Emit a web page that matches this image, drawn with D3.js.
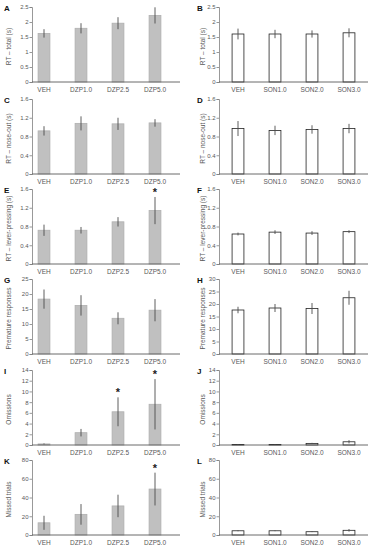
<!DOCTYPE html>
<html>
<head>
<meta charset="utf-8">
<script src="https://cdn.jsdelivr.net/npm/d3@7"></script>
<style>
  body { margin: 0; background: #fff; }
  text { font-family: "Liberation Sans", Arial, sans-serif; }
</style>
</head>
<body>
<svg id="chart"></svg>
<script>
var w = 371;
var h = 550;

var dzpGroups = ["VEH", "DZP1.0", "DZP2.5", "DZP5.0"];
var sonGroups = ["VEH", "SON1.0", "SON2.0", "SON3.0"];

// means and errors
var totalDzp = [1.62, 1.79, 1.96, 2.22];
var totalDzpErr = [0.14, 0.17, 0.2, 0.27];
var totalSon = [1.6, 1.6, 1.6, 1.64];
var totalSonErr = [0.18, 0.14, 0.12, 0.15];

var noseDzp = [0.92, 1.08, 1.07, 1.09];
var noseDzpErr = [0.1, 0.15, 0.13, 0.08];
var noseSon = [0.97, 0.93, 0.95, 0.97];
var noseSonErr = [0.16, 0.1, 0.09, 0.1];

var leverDzp = [0.72, 0.72, 0.9, 1.14];
var leverDzpErr = [0.12, 0.07, 0.1, 0.29];
var leverSon = [0.64, 0.68, 0.66, 0.69];
var leverSonErr = [0.03, 0.04, 0.04, 0.03];

var prematureDzp = [18.3, 16.2, 11.9, 14.6];
var prematureDzpErr = [3.2, 3.4, 2.0, 3.7];
var prematureSon = [17.6, 18.4, 18.2, 22.5];
var prematureSonErr = [1.3, 1.6, 2.2, 2.8];

var omissionsDzp = [0.2, 2.3, 6.2, 7.6];
var omissionsDzpErr = [0.1, 0.7, 2.7, 4.7];
var omissionsSon = [0.1, 0.1, 0.3, 0.6];
var omissionsSonErr = [0.05, 0.05, 0.1, 0.3];

var missedDzp = [13, 22, 31, 49];
var missedDzpErr = [7.5, 11, 12, 17.5];
var missedSon = [4.5, 4.5, 3.5, 5];
var missedSonErr = [0.5, 0.4, 0.4, 1.4];

// significant groups (index) per DZP panel
var starsLever = [3];
var starsOmissions = [2, 3];
var starsMissed = [3];

var yTicksTotal = [0, 0.5, 1, 1.5, 2, 2.5];
var yTicksRt = [0, 0.4, 0.8, 1.2, 1.6];
var yTicksPremDzp = [0, 5, 10, 15, 20, 25];
var yTicksPremSon = [0, 5, 10, 15, 20, 25, 30];
var yTicksOmissions = [0, 2, 4, 6, 8, 10, 12, 14];
var yTicksMissed = [0, 20, 40, 60, 80];

var rowTitles = ["RT \u2013 total (s)", "RT \u2013 nose-out (s)", "RT \u2013 lever-pressing (s)",
  "Premature responses", "Omissions", "Missed trials"];

var panels = [
  { letter: "A", col: 0, row: 0, values: totalDzp, errs: totalDzpErr, ticks: yTicksTotal, stars: [] },
  { letter: "B", col: 1, row: 0, values: totalSon, errs: totalSonErr, ticks: yTicksTotal, stars: [] },
  { letter: "C", col: 0, row: 1, values: noseDzp, errs: noseDzpErr, ticks: yTicksRt, stars: [] },
  { letter: "D", col: 1, row: 1, values: noseSon, errs: noseSonErr, ticks: yTicksRt, stars: [] },
  { letter: "E", col: 0, row: 2, values: leverDzp, errs: leverDzpErr, ticks: yTicksRt, stars: starsLever },
  { letter: "F", col: 1, row: 2, values: leverSon, errs: leverSonErr, ticks: yTicksRt, stars: [] },
  { letter: "G", col: 0, row: 3, values: prematureDzp, errs: prematureDzpErr, ticks: yTicksPremDzp, stars: [] },
  { letter: "H", col: 1, row: 3, values: prematureSon, errs: prematureSonErr, ticks: yTicksPremSon, stars: [] },
  { letter: "I", col: 0, row: 4, values: omissionsDzp, errs: omissionsDzpErr, ticks: yTicksOmissions, stars: starsOmissions },
  { letter: "J", col: 1, row: 4, values: omissionsSon, errs: omissionsSonErr, ticks: yTicksOmissions, stars: [] },
  { letter: "K", col: 0, row: 5, values: missedDzp, errs: missedDzpErr, ticks: yTicksMissed, stars: starsMissed },
  { letter: "L", col: 1, row: 5, values: missedSon, errs: missedSonErr, ticks: yTicksMissed, stars: [] }
];

var rowTop = [7, 99, 189, 279, 370, 460];
var plotH = 75;
// axis line position, band range and letter/label positions per column
var cols = [
  { axisX: 32, axisEnd: 180, band: [25.5, 173.5], letterX: 4, labelX: 9, groups: dzpGroups,
    fill: "#c0c0c0", stroke: "#b0b0b0" },
  { axisX: 219, axisEnd: 368, band: [219.5, 367.5], letterX: 197, labelX: 203, groups: sonGroups,
    fill: "#ffffff", stroke: "#222" }
];

var svg = d3.select("#chart").attr("width", w).attr("height", h);

panels.forEach(function (p) {
  var c = cols[p.col];
  var top = rowTop[p.row];
  var base = top + plotH;
  var yMax = p.ticks[p.ticks.length - 1];

  var x = d3.scaleBand().domain(c.groups).range(c.band).paddingInner(0.68).paddingOuter(0.34);
  var y = d3.scaleLinear().domain([0, yMax]).range([base, top]);

  var g = svg.append("g");

  // y axis
  var yAxis = d3.axisLeft(y).tickValues(p.ticks).tickSize(2.5).tickFormat(d3.format("~g"));
  var ya = g.append("g").attr("transform", "translate(" + c.axisX + ",0)").call(yAxis);
  ya.select(".domain").attr("stroke", "#7f7f7f").attr("stroke-width", 0.8);
  ya.selectAll(".tick line").attr("stroke", "#7f7f7f").attr("stroke-width", 0.8);
  ya.selectAll(".tick text").attr("fill", "#595959").attr("font-size", 6).attr("x", -3.5);

  // bars
  g.selectAll("rect.bar")
    .data(p.values)
    .enter()
    .append("rect")
    .attr("class", "bar")
    .attr("x", (d, i) => x(c.groups[i]))
    .attr("y", (d) => y(d))
    .attr("width", x.bandwidth())
    .attr("height", (d) => base - y(d))
    .style("fill", c.fill)
    .style("stroke", c.stroke)
    .style("stroke-width", 0.8);

  // error bars
  g.selectAll("line.err")
    .data(p.values)
    .enter()
    .append("line")
    .attr("class", "err")
    .attr("x1", (d, i) => x(c.groups[i]) + x.bandwidth() / 2)
    .attr("x2", (d, i) => x(c.groups[i]) + x.bandwidth() / 2)
    .attr("y1", (d, i) => y(d + p.errs[i]))
    .attr("y2", (d, i) => y(Math.max(0, d - p.errs[i])))
    .style("stroke", "#4d4d4d")
    .style("stroke-width", 0.9);

  // x axis line
  g.append("line")
    .attr("x1", c.axisX).attr("x2", c.axisEnd)
    .attr("y1", base).attr("y2", base)
    .style("stroke", "#595959")
    .style("stroke-width", 0.9);

  // category labels
  g.selectAll("text.cat")
    .data(c.groups)
    .enter()
    .append("text")
    .attr("class", "cat")
    .attr("x", (d) => x(d) + x.bandwidth() / 2)
    .attr("y", base + 10)
    .attr("text-anchor", "middle")
    .attr("font-size", 6.5)
    .attr("fill", "#595959")
    .text((d) => d);

  // stars
  g.selectAll("text.star")
    .data(p.stars)
    .enter()
    .append("text")
    .attr("class", "star")
    .attr("x", (i) => x(c.groups[i]) + x.bandwidth() / 2)
    .attr("y", (i) => y(p.values[i] + p.errs[i]) - 1)
    .attr("text-anchor", "middle")
    .attr("font-size", 11)
    .attr("font-weight", "bold")
    .attr("fill", "#222")
    .text("*");

  // y title
  g.append("text")
    .attr("transform", "translate(" + c.labelX + "," + (top + plotH / 2 + 2) + ") rotate(-90)")
    .attr("text-anchor", "middle")
    .attr("dy", "0.35em")
    .attr("font-size", 6.5)
    .attr("fill", "#595959")
    .text(rowTitles[p.row]);

  // panel letter
  g.append("text")
    .attr("x", c.letterX)
    .attr("y", top + 4)
    .attr("font-size", 8)
    .attr("font-weight", "bold")
    .attr("fill", "#111")
    .text(p.letter);
});
</script>
</body>
</html>
